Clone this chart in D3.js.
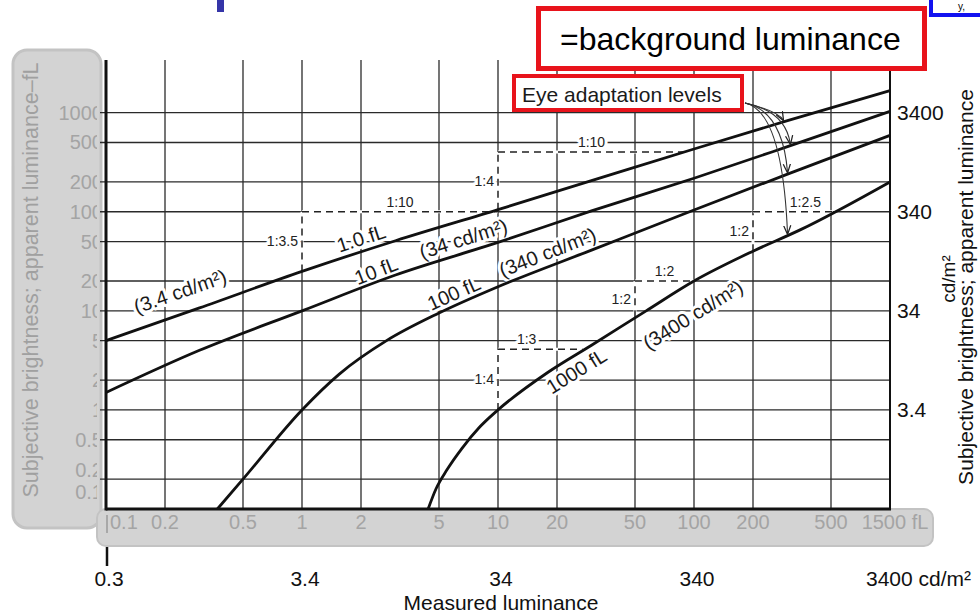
<!DOCTYPE html>
<html><head><meta charset="utf-8">
<script src="https://cdn.jsdelivr.net/npm/d3@7"></script>
<style>body{margin:0;background:#fff}svg{display:block}text{font-family:"Liberation Sans",Arial,sans-serif}</style>
</head><body>
<svg id="c" width="980" height="613"></svg>
<script>
// ---------- data ----------
const xTicks = [0.1,0.2,0.5,1,2,5,10,20,50,100,200,500,1000];
const xTickLabels = ["0.1","0.2","0.5","1","2","5","10","20","50","100","200","500","1500 fL"];
const yTicks = [1000,500,200,100,50,20,10,5,2,1,0.5,0.2,0.1];
const yTickLabels = ["1000","500","200","100","50","20","10","5","2","1","0.5","0.2","0.1"];
const cdXTicks = [0.1,1,10,100,1000];
const cdXLabels = ["0.3","3.4","34","340","3400 cd/m²"];
const cdYTicks = [1000,100,10,1];
const cdYLabels = ["3400","340","34","3.4"];

// adaptation curves: [measured fL, subjective fL]
const curve1fL    = [[0.1,5],[0.3,10.7],[1,25],[3,51],[10,105],[30,206],[100,430],[300,830],[1000,1670]];
const curve10fL   = [[0.1,1.5],[0.3,4],[1,10],[3,23],[10,49],[30,102],[100,218],[300,454],[1000,1030]];
const curve100fL  = [[0.37,0.1],[0.5,0.2],[1,1],[1.55,2.3],[2.7,5],[5,9.5],[10,17.5],[30,41],[100,104],[300,240],[1000,590]];
const curve1000fL = [[4.4,0.1],[4.83,0.16],[5.5,0.25],[6.55,0.41],[8,0.66],[10,1],[18,2.4],[30,4.5],[57,10],[100,20],[200,40],[350,66],[1000,200]];
const curves = [curve1fL, curve10fL, curve100fL, curve1000fL];

const curveLabels = [
  {curve:0, text:"(3.4 cd/m²)", x:0.26},
  {curve:0, text:"1.0 fL", x:2.1},
  {curve:1, text:"10 fL", x:2.5},
  {curve:1, text:"(34 cd/m²)", x:7.0},
  {curve:2, text:"100 fL", x:6.3},
  {curve:2, text:"(340 cd/m²)", x:19},
  {curve:3, text:"1000 fL", x:23},
  {curve:3, text:"(3400 cd/m²)", x:83}
];
// ratio steps: vertical at x1 from y1 to y2, horizontal at y2 from x1 to x2
const ratioSteps = [
  {x1:1,   y1:25,  y2:100, x2:10,  v:"1:3.5", h:"1:10"},
  {x1:10,  y1:105, y2:400, x2:90,  v:"1:4",   h:"1:10"},
  {x1:10,  y1:1,   y2:4.1, x2:27,  v:"1:4",   h:"1:3", hx:14},
  {x1:50,  y1:8.6, y2:20,  x2:100, v:"1:2",   h:"1:2"},
  {x1:200, y1:40,  y2:100, x2:510, v:"1:2",   h:"1:2.5", hx:370}
];
const arrowTargets = [{curve:0,x:285},{curve:1,x:310},{curve:2,x:300},{curve:3,x:300}];

const leftTitle = "Subjective brightness; apparent luminance\u2013fL";
const rightTitle = "Subjective brightness; apparent luminance";
const rightUnit = "cd/m²";
const bottomTitle = "Measured luminance";
const banner = "=background luminance";
const eyeLabel = "Eye adaptation levels";
const fragment = "y,";

// ---------- layout ----------
const svg = d3.select("#c");
const x = d3.scaleLog().domain([0.1,1000]).range([106,890]);
const y = d3.scaleLog().domain([0.1,3400]).range([509,60]);
const GRID = "#2a2a2a", GREYTXT = "#a4a4a4";

function curveAt(pts, xv){
  const lx = Math.log10(xv);
  for(let i=0;i<pts.length-1;i++){
    const a=Math.log10(pts[i][0]), b=Math.log10(pts[i+1][0]);
    if(lx>=a && lx<=b){
      const t=(lx-a)/(b-a);
      return Math.pow(10, Math.log10(pts[i][1])*(1-t)+Math.log10(pts[i+1][1])*t);
    }
  }
  return pts[pts.length-1][1];
}
const gm = (a,b)=>Math.sqrt(a*b);

// grey boxes
svg.append("rect").attr("x",13).attr("y",50).attr("width",88).attr("height",478).attr("rx",14)
  .attr("fill","#d3d3d3").attr("stroke","#c3c3c3").attr("stroke-width",3);
svg.append("rect").attr("x",97).attr("y",509).attr("width",836).attr("height",37).attr("rx",9)
  .attr("fill","#d3d3d3").attr("stroke","#c3c3c3").attr("stroke-width",2);

// grid
const grid = svg.append("g").attr("stroke",GRID).attr("stroke-width",1.3);
grid.selectAll("line.v").data(xTicks).join("line")
  .attr("x1",d=>x(d)).attr("x2",d=>x(d)).attr("y1",y(3400)).attr("y2",y(0.1));
grid.selectAll("line.h").data(yTicks.filter(d=>d>0.1)).join("line")
  .attr("x1",100).attr("x2",x(1000)).attr("y1",d=>y(d)).attr("y2",d=>y(d));

// dashed ratio steps
const dash = svg.append("g");
ratioSteps.forEach(s=>{
  const segs=[[x(s.x1),y(s.y1),x(s.x1),y(s.y2)],[x(s.x1),y(s.y2),x(s.x2),y(s.y2)]];
  segs.forEach(g=>{
    dash.append("line").attr("x1",g[0]).attr("y1",g[1]).attr("x2",g[2]).attr("y2",g[3])
      .attr("stroke","#fff").attr("stroke-width",3);
    dash.append("line").attr("x1",g[0]).attr("y1",g[1]).attr("x2",g[2]).attr("y2",g[3])
      .attr("stroke","#222").attr("stroke-width",1.5).attr("stroke-dasharray","7,5");
  });
});
const halo = sel=>sel.attr("stroke","#fff").attr("stroke-width",6).attr("paint-order","stroke").attr("stroke-linejoin","round");
ratioSteps.forEach(s=>{
  dash.append("text").attr("x",x(s.x1)-4).attr("y",y(gm(s.y1,s.y2))).attr("dy","0.35em")
    .attr("text-anchor","end").attr("font-size",14).attr("fill","#222").text(s.v).call(halo);
  dash.append("text").attr("x",x(s.hx||gm(s.x1,s.x2))).attr("y",y(s.y2)-5)
    .attr("text-anchor","middle").attr("font-size",14).attr("fill","#222").text(s.h).call(halo);
});

// curve labels
const labelOffsets = [22,13,11,14,12,14,-14,-28];
curveLabels.forEach((l,i)=>{
  const pts=curves[l.curve];
  const px=x(l.x), py=y(curveAt(pts,l.x));
  const ax=x(l.x/1.15), ay=y(curveAt(pts,l.x/1.15)), bx=x(l.x*1.15), by=y(curveAt(pts,l.x*1.15));
  const len=Math.hypot(bx-ax,by-ay), dx=(bx-ax)/len, dy=(by-ay)/len;
  const off=labelOffsets[i];
  const cx=px+off*dy, cy=py-off*dx;
  const ang=Math.atan2(dy,dx)*180/Math.PI;
  svg.append("text").attr("transform",`translate(${cx},${cy}) rotate(${ang})`)
    .attr("text-anchor","middle").attr("dy","0.35em").attr("font-size",20).attr("fill","#1a1a1a")
    .text(l.text).call(halo);
});

// curves
const line = d3.line().x(d=>x(d[0])).y(d=>y(d[1])).curve(d3.curveMonotoneX);
svg.append("g").selectAll("path").data(curves).join("path")
  .attr("d",line).attr("fill","none").attr("stroke","#111").attr("stroke-width",2.8);

// frame
svg.append("line").attr("x1",x(0.1)).attr("x2",x(0.1)).attr("y1",y(3400)).attr("y2",y(0.1)+1.5).attr("stroke","#111").attr("stroke-width",3);
svg.append("line").attr("x1",x(0.1)).attr("x2",x(1000)+1).attr("y1",y(0.1)).attr("y2",y(0.1)).attr("stroke","#111").attr("stroke-width",3);
svg.append("line").attr("x1",x(1000)).attr("x2",x(1000)).attr("y1",y(3400)).attr("y2",y(0.1)).attr("stroke","#111").attr("stroke-width",2);

// left tick labels (grey, clipped by box)
svg.append("clipPath").attr("id","lc").append("rect").attr("x",0).attr("y",0).attr("width",97).attr("height",613);
const lOff = {"0.2":-9,"0.1":-17};
svg.append("g").attr("clip-path","url(#lc)").selectAll("text").data(yTicks).join("text")
  .attr("x",103).attr("y",(d,i)=>y(d)+(lOff[yTickLabels[i]]||0)).attr("dy","0.35em")
  .attr("text-anchor","end").attr("font-size",20).attr("fill",GREYTXT).text((d,i)=>yTickLabels[i]);
svg.append("text").attr("transform","translate(38,280) rotate(-90)").attr("text-anchor","middle")
  .attr("font-size",21.5).attr("fill","#a0a0a0").text(leftTitle);

// bottom fL labels (grey)
svg.append("line").attr("x1",x(0.1)+1).attr("x2",x(0.1)+1).attr("y1",515).attr("y2",533).attr("stroke","#a8a8a8").attr("stroke-width",2);
svg.append("g").selectAll("text").data(xTicks).join("text")
  .attr("x",(d,i)=> i===0 ? x(d)+4 : (i===xTicks.length-1 ? x(d)+5 : x(d)))
  .attr("y",529).attr("text-anchor",(d,i)=>i===0?"start":"middle")
  .attr("font-size",20).attr("fill",GREYTXT).text((d,i)=>xTickLabels[i]);

// bottom cd/m2 labels
svg.append("line").attr("x1",x(0.1)+1).attr("x2",x(0.1)+1).attr("y1",547).attr("y2",566).attr("stroke","#111").attr("stroke-width",2.5);
svg.append("g").selectAll("text").data(cdXTicks).join("text")
  .attr("x",(d,i)=> i===cdXTicks.length-1 ? x(d)-24 : x(d)+3).attr("y",586)
  .attr("text-anchor",(d,i)=> i===cdXTicks.length-1 ? "start":"middle")
  .attr("font-size",21).attr("fill","#111").text((d,i)=>cdXLabels[i]);
svg.append("text").attr("x",501).attr("y",610).attr("text-anchor","middle").attr("font-size",21).attr("fill","#111").text(bottomTitle);

// right labels
svg.append("g").selectAll("text").data(cdYTicks).join("text")
  .attr("x",897).attr("y",d=>y(d)).attr("dy","0.35em").attr("font-size",21).attr("fill","#111").text((d,i)=>cdYLabels[i]);
svg.append("text").attr("transform","translate(955,279) rotate(-90)").attr("text-anchor","middle")
  .attr("font-size",19).attr("fill","#111").text(rightUnit);
svg.append("text").attr("transform","translate(973,287) rotate(-90)").attr("text-anchor","middle")
  .attr("font-size",21).attr("fill","#111").text(rightTitle);

// eye adaptation box and arrows
const defs = svg.append("defs");
defs.append("marker").attr("id","ah").attr("viewBox","0 0 10 10").attr("refX",9).attr("refY",5)
  .attr("markerWidth",9).attr("markerHeight",9).attr("markerUnits","userSpaceOnUse").attr("orient","auto")
  .append("path").attr("d","M0,1 L10,5 L0,9").attr("fill","none").attr("stroke","#222").attr("stroke-width",1.4);
const sx=745, sy=103;
arrowTargets.forEach(a=>{
  const ex=x(a.x), ey=y(curveAt(curves[a.curve],a.x))-2;
  svg.append("path").attr("d",`M${sx},${sy} Q${ex-5},${sy+8} ${ex},${ey}`)
    .attr("fill","none").attr("stroke","#333").attr("stroke-width",1.1).attr("marker-end","url(#ah)");
});
svg.append("rect").attr("x",514).attr("y",76).attr("width",228).attr("height",34)
  .attr("fill","#fff").attr("stroke","#e8131b").attr("stroke-width",4);
svg.append("text").attr("x",522).attr("y",102).attr("font-size",21).attr("fill","#1a1a1a").text(eyeLabel);

// banner
svg.append("rect").attr("x",538.5).attr("y",8.5).attr("width",386).attr("height",60)
  .attr("fill","#fff").attr("stroke","#e8131b").attr("stroke-width",5);
svg.append("text").attr("x",560).attr("y",50).attr("font-size",32).attr("fill","#000").text(banner);

// slide fragments at top
svg.append("rect").attr("x",217).attr("y",0).attr("width",7).attr("height",12).attr("fill","#3535a8");
svg.append("rect").attr("x",931).attr("y",-10).attr("width",80).attr("height",25).attr("fill","#fff")
  .attr("stroke","#1212f0").attr("stroke-width",4);
svg.append("text").attr("x",958).attr("y",10).attr("font-size",10).attr("fill","#000").text(fragment);
</script>
</body></html>
